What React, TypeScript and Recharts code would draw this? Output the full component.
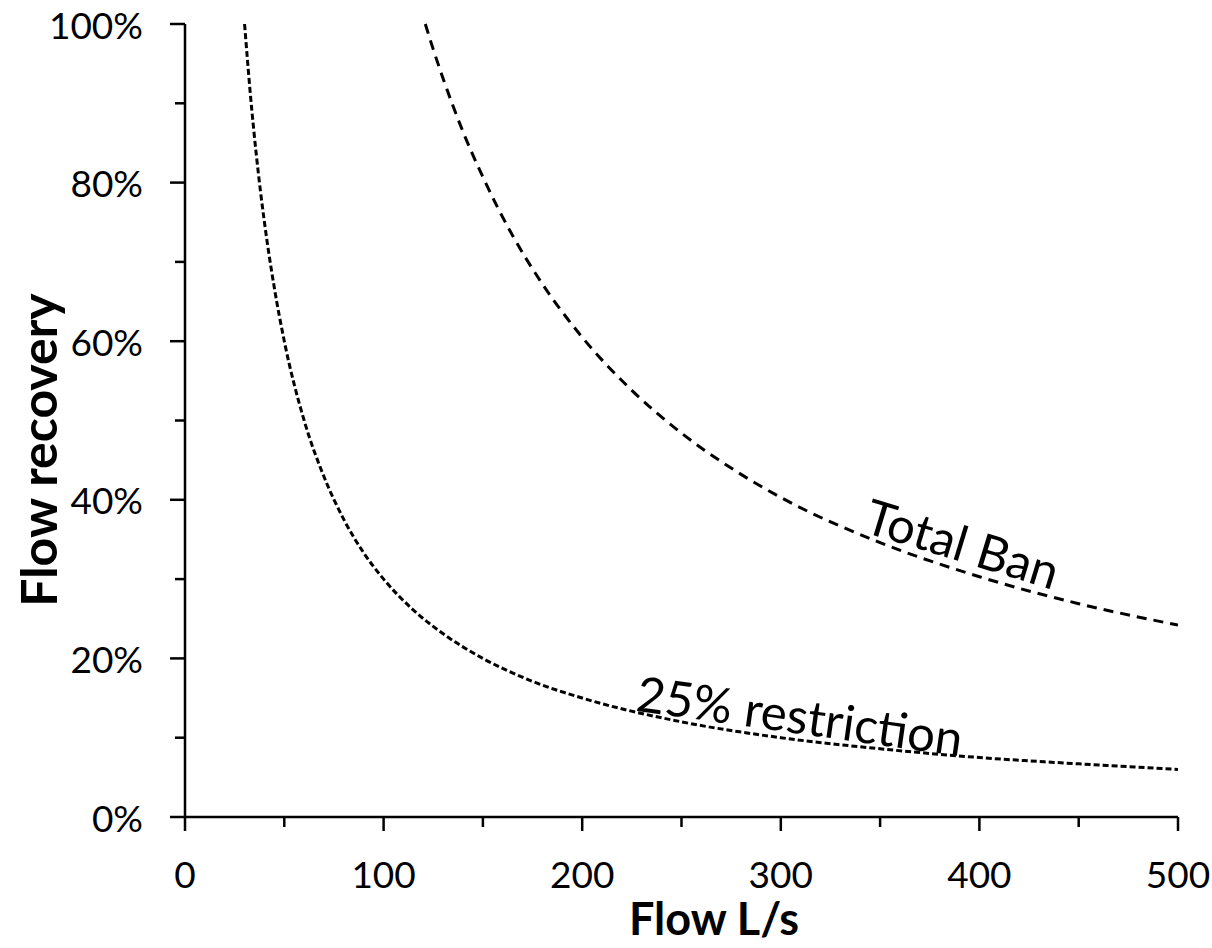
import { LineChart, Line, XAxis, YAxis, ReferenceDot } from "recharts";

// values (flow L/s -> % recovery)
const totalBanFlow = [121, 125, 130, 140, 150, 165, 180, 200, 225, 250, 275, 300, 350, 400, 450, 500];
const totalBanRecovery = [100, 96.8, 93.1, 86.4, 80.7, 73.3, 67.2, 60.5, 53.8, 48.4, 44.0, 40.3, 34.6, 30.3, 26.9, 24.2];

const restrictionFlow = [30, 33, 36, 40, 45, 50, 60, 70, 80, 90, 100, 115, 130, 150, 175, 200, 250, 300, 350, 400, 450, 500];
const restrictionRecovery = [100, 90.9, 83.3, 75, 66.7, 60, 50, 42.9, 37.5, 33.3, 30, 26.1, 23.1, 20, 17.1, 15, 12, 10, 8.6, 7.5, 6.7, 6];

const xTicks = [0, 50, 100, 150, 200, 250, 300, 350, 400, 450, 500];
const yTicks = [0, 10, 20, 30, 40, 50, 60, 70, 80, 90, 100];

const totalBan = totalBanFlow.map((f, i) => ({ flow: f, value: totalBanRecovery[i] }));
const restriction = restrictionFlow.map((f, i) => ({ flow: f, value: restrictionRecovery[i] }));

const FONT = "Lato, 'Open Sans', sans-serif";

const YTick = (props: any) => {
  const { x, y, payload } = props;
  const major = payload.value % 20 === 0;
  return (
    <g>
      <line x1={x} x2={x - (major ? 15 : 10)} y1={y} y2={y} stroke="#000" strokeWidth={2.5} />
      {major && (
        <text x={x - 42} y={y} textAnchor="end" dominantBaseline="central" fontSize={37} fontFamily={FONT} fill="#000">
          {payload.value}%
        </text>
      )}
    </g>
  );
};

const XTick = (props: any) => {
  const { x, y, payload } = props;
  const major = payload.value % 100 === 0;
  return (
    <g>
      <line x1={x} x2={x} y1={y} y2={y + (major ? 14 : 10)} stroke="#000" strokeWidth={2.5} />
      {major && (
        <text x={x} y={y + 56} textAnchor="middle" dominantBaseline="central" fontSize={37} fontFamily={FONT} fill="#000">
          {payload.value}
        </text>
      )}
    </g>
  );
};

const curveLabel = (text: string, angle: number) => (p: any) => (
  <text
    x={p.cx}
    y={p.cy}
    transform={`rotate(${angle} ${p.cx} ${p.cy})`}
    textAnchor="middle"
    dominantBaseline="central"
    fontSize={49}
    fontFamily={FONT}
    fill="#000"
  >
    {text}
  </text>
);

const XTitle = () => (
  <text x={714} y={935} textAnchor="middle" fontSize={45} fontWeight={700} fontFamily={FONT} fill="#000">
    Flow L/s
  </text>
);

const YTitle = () => (
  <text x={57} y={450} transform="rotate(-90 57 450)" textAnchor="middle" fontSize={50} fontWeight={700} fontFamily={FONT} fill="#000">
    Flow recovery
  </text>
);

export default function App() {
  return (
    <div style={{ position: "absolute", left: 0, top: 0, background: "#fff" }}>
      <LineChart width={1212} height={948} margin={{ top: 24, right: 34, bottom: 0, left: 0 }}>
        <XAxis
          dataKey="flow"
          type="number"
          domain={[0, 500]}
          ticks={xTicks}
          interval={0}
          allowDataOverflow
          height={131}
          tickSize={0}
          tickMargin={0}
          tickLine={false}
          tick={<XTick />}
          axisLine={{ stroke: "#000", strokeWidth: 2.5 }}
          label={{ content: XTitle }}
        />
        <XAxis xAxisId="top" orientation="top" type="number" domain={[0, 500]} height={0} tick={false} tickLine={false} axisLine={{ stroke: "#000", strokeWidth: 2.5 }} />
        <YAxis
          type="number"
          domain={[0, 100]}
          ticks={yTicks}
          interval={0}
          width={185}
          tickSize={0}
          tickMargin={0}
          tickLine={false}
          tick={<YTick />}
          axisLine={{ stroke: "#000", strokeWidth: 2.5 }}
          label={{ content: YTitle }}
        />
        <YAxis yAxisId="right" orientation="right" domain={[0, 100]} width={0} tick={false} tickLine={false} axisLine={{ stroke: "#000", strokeWidth: 2.5 }} />
        <Line
          data={totalBan}
          dataKey="value"
          type="monotone"
          stroke="#000"
          strokeWidth={3}
          strokeDasharray="10 7"
          dot={false}
          isAnimationActive={false}
        />
        <Line
          data={restriction}
          dataKey="value"
          type="monotone"
          stroke="#000"
          strokeWidth={3}
          strokeDasharray="6 3"
          dot={false}
          isAnimationActive={false}
        />
        <ReferenceDot x={391.7} y={34.6} r={0} shape={curveLabel("Total Ban", 17)} />
        <ReferenceDot x={309.7} y={12.9} r={0} shape={curveLabel("25% restriction", 8)} />
      </LineChart>
    </div>
  );
}
